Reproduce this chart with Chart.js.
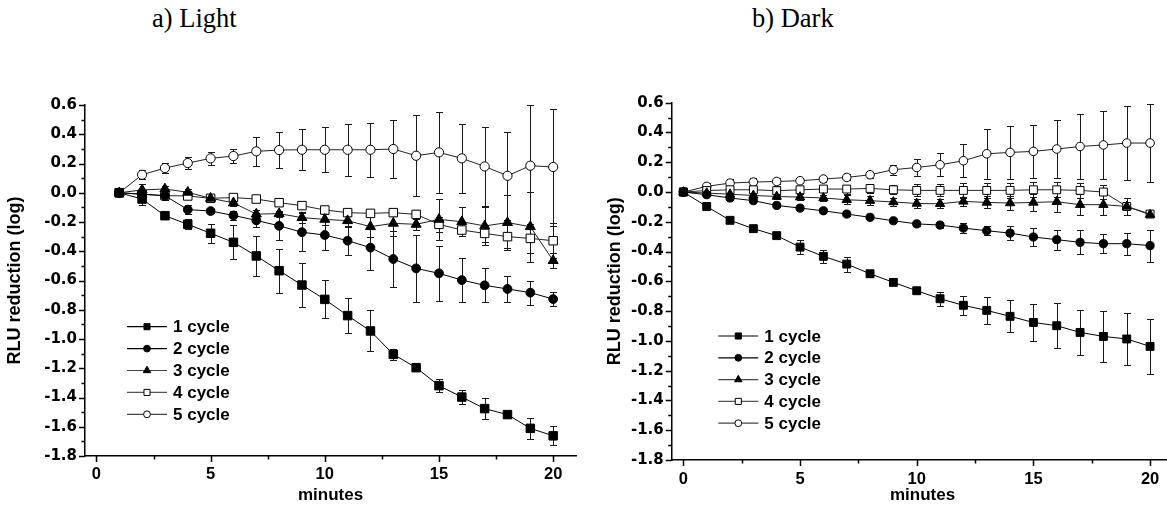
<!DOCTYPE html>
<html><head><meta charset="utf-8">
<script src="https://cdn.jsdelivr.net/npm/chart.js@4/dist/chart.umd.min.js"></script>
<style>
html,body{margin:0;padding:0;background:#fff;overflow:hidden;width:1167px;height:506px;position:relative;}
.title{position:absolute;font-family:"Liberation Serif","Times New Roman",serif;font-size:26.5px;color:#000;white-space:nowrap;line-height:normal;}
.wrap{position:absolute;top:0;height:506px;}
</style></head><body>
<div class="title" style="left:152px;top:3px">a) Light</div>
<div class="title" style="left:752px;top:3px">b) Dark</div>
<div class="wrap" style="left:0;width:583px"><canvas id="c1"></canvas></div>
<div class="wrap" style="left:590px;width:590px"><canvas id="c2"></canvas></div>
<script>
// ---------- data ----------
const seriesNames = ['1 cycle', '2 cycle', '3 cycle', '4 cycle', '5 cycle'];
const minutesLight = [1,2,3,4,5,6,7,8,9,10,11,12,13,14,15,16,17,18,19,20];
const minutesDark = [0,1,2,3,4,5,6,7,8,9,10,11,12,13,14,15,16,17,18,19,20];

const light1 = [0,-0.043,-0.157,-0.216,-0.277,-0.339,-0.432,-0.533,-0.631,-0.729,-0.84,-0.945,-1.105,-1.196,-1.319,-1.397,-1.476,-1.517,-1.611,-1.662];
const light1Err = [0,0.04,0.01,0.034,0.064,0.117,0.137,0.15,0.15,0.13,0.12,0.14,0.04,0.01,0.045,0.05,0.07,0.01,0.072,0.066];
const light2 = [0,-0.01,-0.02,-0.115,-0.125,-0.155,-0.189,-0.226,-0.27,-0.289,-0.328,-0.375,-0.453,-0.517,-0.551,-0.597,-0.633,-0.658,-0.683,-0.727];
const light2Err = [0,0.02,0.03,0.03,0.015,0.03,0.048,0.097,0.13,0.1,0.1,0.15,0.19,0.23,0.19,0.15,0.116,0.087,0.082,0.046];
const light3 = [0,0.019,0.026,0.003,-0.038,-0.069,-0.146,-0.143,-0.17,-0.182,-0.191,-0.232,-0.209,-0.216,-0.182,-0.198,-0.227,-0.204,-0.232,-0.464];
const light3Err = [0,0.04,0.02,0.02,0.02,0.02,0.03,0.02,0.04,0.04,0.04,0.07,0.09,0.04,0.14,0.1,0.13,0.19,0.24,0.05];
const light4 = [0,-0.01,-0.02,-0.022,-0.038,-0.033,-0.043,-0.068,-0.088,-0.118,-0.136,-0.141,-0.136,-0.148,-0.216,-0.255,-0.278,-0.3,-0.312,-0.328];
const light4Err = [0,0.01,0.02,0.02,0.02,0.02,0.02,0.02,0.02,0.02,0.02,0.02,0.02,0.03,0.05,0.04,0.06,0.08,0.1,0.12];
const light5 = [0,0.123,0.169,0.203,0.235,0.251,0.283,0.292,0.294,0.294,0.294,0.294,0.299,0.253,0.276,0.235,0.18,0.116,0.185,0.176];
const light5Err = [0,0.03,0.034,0.04,0.043,0.046,0.097,0.12,0.14,0.154,0.177,0.185,0.2,0.277,0.278,0.234,0.27,0.3,0.417,0.4];

const dark1 = [0,-0.097,-0.19,-0.246,-0.293,-0.37,-0.432,-0.484,-0.549,-0.607,-0.663,-0.717,-0.761,-0.795,-0.835,-0.876,-0.898,-0.943,-0.97,-0.987,-1.037];
const dark1Err = [0,0.01,0.01,0.01,0.01,0.045,0.045,0.05,0.015,0.01,0.015,0.047,0.064,0.093,0.108,0.123,0.151,0.153,0.172,0.173,0.184];
const dark2 = [0,-0.018,-0.04,-0.058,-0.09,-0.108,-0.126,-0.148,-0.17,-0.193,-0.214,-0.222,-0.242,-0.26,-0.276,-0.302,-0.32,-0.338,-0.347,-0.347,-0.36];
const dark2Err = [0,0.01,0.01,0.01,0.01,0.01,0.01,0.01,0.01,0.01,0.015,0.02,0.034,0.03,0.047,0.06,0.067,0.08,0.064,0.075,0.107];
const dark3 = [0,-0.007,-0.015,-0.023,-0.03,-0.034,-0.04,-0.052,-0.058,-0.067,-0.077,-0.079,-0.063,-0.07,-0.074,-0.07,-0.065,-0.085,-0.085,-0.097,-0.152];
const dark3Err = [0,0.01,0.02,0.02,0.02,0.02,0.02,0.03,0.03,0.03,0.03,0.03,0.03,0.04,0.05,0.055,0.07,0.07,0.07,0.06,0.01];
const dark4 = [0,0.01,0.015,0.015,0.009,0.015,0.02,0.02,0.024,0.015,0.011,0.011,0.011,0.011,0.011,0.015,0.015,0.011,0,-0.097,-0.148];
const dark4Err = [0,0.02,0.03,0.03,0.03,0.02,0.02,0.03,0.03,0.03,0.04,0.04,0.05,0.05,0.05,0.05,0.05,0.05,0.05,0.06,0.01];
const dark5 = [0,0.038,0.06,0.067,0.071,0.076,0.087,0.098,0.116,0.15,0.165,0.183,0.21,0.257,0.266,0.273,0.289,0.306,0.316,0.329,0.329];
const dark5Err = [0,0.02,0.03,0.03,0.02,0.015,0.02,0.02,0.02,0.034,0.056,0.078,0.11,0.167,0.179,0.179,0.198,0.22,0.23,0.246,0.26];

const xTickValues = [0,2.5,5,7.5,10,12.5,15,17.5,20];
const xTickLabels = ['0','','5','','10','','15','','20'];
const yTickValues = [-1.8,-1.7,-1.6,-1.5,-1.4,-1.3,-1.2,-1.1,-1.0,-0.9,-0.8,-0.7,-0.6,-0.5,-0.4,-0.3,-0.2,-0.1,0.0,0.1,0.2,0.3,0.4,0.5,0.6];
const yTickLabels = ['-1.8','','-1.6','','-1.4','','-1.2','','-1.0','','-0.8','','-0.6','','-0.4','','-0.2','','0.0','','0.2','','0.4','','0.6'];

// ---------- styles ----------
const markers = [
  {style:'rect', fill:'#000', line:'#000', r:6.0},
  {style:'circle', fill:'#000', line:'#000', r:4.4},
  {style:'triangle', fill:'#000', line:'#222', r:5.8},
  {style:'rect', fill:'#fff', line:'#222', r:6.0},
  {style:'circle', fill:'#fff', line:'#222', r:4.6}
];
const legendLine = ['#000','#000','#444','#555','#444'];

function drawMarker(ctx, st, x, y, r){
  ctx.beginPath();
  if (st.style === 'rect'){ const s = Math.SQRT1_2 * r; ctx.rect(x - s, y - s, 2*s, 2*s); }
  else if (st.style === 'circle'){ ctx.arc(x, y, r, 0, Math.PI*2); }
  else { ctx.moveTo(x, y - r); ctx.lineTo(x + r*0.866, y + r*0.5); ctx.lineTo(x - r*0.866, y + r*0.5); ctx.closePath(); }
  ctx.fillStyle = st.fill; ctx.fill();
  ctx.strokeStyle = '#000'; ctx.lineWidth = 1; ctx.stroke();
}

const errorBars = {
  id: 'errorBars',
  beforeDatasetsDraw(chart){
    const ctx = chart.ctx, ys = chart.scales.y;
    ctx.save(); ctx.strokeStyle = '#1a1a1a'; ctx.lineWidth = 1;
    chart.data.datasets.forEach((ds, di) => {
      const meta = chart.getDatasetMeta(di);
      ds.errors.forEach((e, i) => {
        if (!e) return;
        const v = ds.data[i].y;
        const x = Math.round(meta.data[i].x) + 0.5;
        const t = Math.round(ys.getPixelForValue(v + e)) + 0.5;
        const b = Math.round(ys.getPixelForValue(v - e)) + 0.5;
        ctx.beginPath();
        ctx.moveTo(x, t); ctx.lineTo(x, b);
        ctx.moveTo(x - 3.5, t); ctx.lineTo(x + 3.5, t);
        ctx.moveTo(x - 3.5, b); ctx.lineTo(x + 3.5, b);
        ctx.stroke();
      });
    });
    ctx.restore();
  }
};

const tickMarks = {
  id: 'tickMarks',
  afterDraw(chart){
    const ctx = chart.ctx, xs = chart.scales.x, ys = chart.scales.y, a = chart.chartArea;
    ctx.save(); ctx.strokeStyle = '#000'; ctx.lineWidth = 1.5;
    ctx.beginPath();
    xTickValues.forEach((v, i) => {
      const px = Math.round(xs.getPixelForValue(v)) + 0.5;
      const len = xTickLabels[i] ? 6 : 3.5;
      ctx.moveTo(px, a.bottom); ctx.lineTo(px, a.bottom + len);
    });
    yTickValues.forEach((v, i) => {
      const py = Math.round(ys.getPixelForValue(v)) + 0.5;
      const len = yTickLabels[i] ? 6 : 3.5;
      ctx.moveTo(a.left, py); ctx.lineTo(a.left - len, py);
    });
    ctx.stroke();
    ctx.restore();
  }
};

function legendPlugin(lx, ly, gap){
  return {
    id: 'customLegend',
    afterDraw(chart){
      const ctx = chart.ctx;
      ctx.save();
      chart.data.datasets.forEach((ds, i) => {
        const y = ly + i * gap;
        ctx.strokeStyle = legendLine[i]; ctx.lineWidth = 1.2;
        ctx.beginPath(); ctx.moveTo(lx, y); ctx.lineTo(lx + 40, y); ctx.stroke();
        drawMarker(ctx, markers[i], lx + 20, y, markers[i].style === 'circle' ? 3.4 : 4.3);
        ctx.fillStyle = '#000';
        ctx.font = 'bold 17px "Liberation Sans", Arial, sans-serif';
        ctx.textBaseline = 'middle'; ctx.textAlign = 'left';
        ctx.fillText(seriesNames[i], lx + 46, y + 1);
      });
      ctx.restore();
    }
  };
}

function makeChart(id, minutes, values, errs, g){
  const datasets = values.map((vals, i) => ({
    label: seriesNames[i],
    data: minutes.map((m, j) => ({x: m, y: vals[j]})),
    errors: errs[i],
    borderColor: markers[i].line,
    borderWidth: 1,
    pointStyle: markers[i].style,
    pointRadius: markers[i].r * g.scale,
    pointBackgroundColor: markers[i].fill,
    pointBorderColor: '#000',
    pointBorderWidth: 1,
    tension: 0,
    fill: false
  }));
  return new Chart(document.getElementById(id), {
    type: 'line',
    data: { datasets },
    options: {
      responsive: true, maintainAspectRatio: false, animation: false,
      layout: { padding: { top: g.padTop, right: g.padRight, left: 0, bottom: 0 } },
      plugins: { legend: { display: false }, tooltip: { enabled: false }, title: { display: false } },
      scales: {
        x: {
          type: 'linear', min: -0.5, max: 21,
          afterBuildTicks: s => { s.ticks = xTickValues.map(v => ({value: v})); },
          afterFit: s => { s.height = g.xHeight; },
          grid: { display: false, drawTicks: false },
          border: { display: true, color: '#000', width: 1.5 },
          ticks: {
            autoSkip: false, maxRotation: 0, padding: g.xPad, color: '#000',
            font: { family: '"Liberation Sans", Arial, sans-serif', size: 16.5, weight: 'bold' },
            callback: (v) => { const k = xTickValues.indexOf(v); return k >= 0 ? xTickLabels[k] : ''; }
          },
          title: { display: true, text: 'minutes', color: '#000', padding: { top: 0, bottom: 0 },
            font: { family: '"Liberation Sans", Arial, sans-serif', size: 17, weight: 'bold' } }
        },
        y: {
          type: 'linear', min: -1.8, max: 0.6,
          afterBuildTicks: s => { s.ticks = yTickValues.map(v => ({value: v})); },
          afterFit: s => { s.width = g.yWidth; },
          grid: { display: false, drawTicks: false },
          border: { display: true, color: '#000', width: 1.5 },
          ticks: {
            autoSkip: false, padding: 8, color: '#000',
            font: { family: '"DejaVu Sans", sans-serif', size: 15, weight: 'bold' },
            callback: (v) => { const k = yTickValues.findIndex(t => Math.abs(t - v) < 1e-6); return k >= 0 ? yTickLabels[k] : ''; }
          },
          title: { display: true, text: 'RLU reduction (log)', color: '#000', padding: { top: g.yTitlePad, bottom: 0 },
            font: { family: '"Liberation Sans", Arial, sans-serif', size: 18, weight: 'bold' } }
        }
      }
    },
    plugins: [errorBars, tickMarks, legendPlugin(g.lx, g.ly, g.lgap)]
  });
}

makeChart('c1', minutesLight,
  [light1, light2, light3, light4, light5],
  [light1Err, light2Err, light3Err, light4Err, light5Err],
  {padTop: 105, padRight: 4.6, xHeight: 50, yWidth: 85, xPad: 9, yTitlePad: 4.2, scale: 1,
   lx: 127, ly: 326.7, lgap: 21.9});

makeChart('c2', minutesDark,
  [dark1, dark2, dark3, dark4, dark5],
  [dark1Err, dark2Err, dark3Err, dark4Err, dark5Err],
  {padTop: 102.7, padRight: 3.2, xHeight: 46, yWidth: 81.7, xPad: 10, yTitlePad: 14.2, scale: 0.93,
   lx: 128.3, ly: 336, lgap: 21.8});
</script>
</body></html>
